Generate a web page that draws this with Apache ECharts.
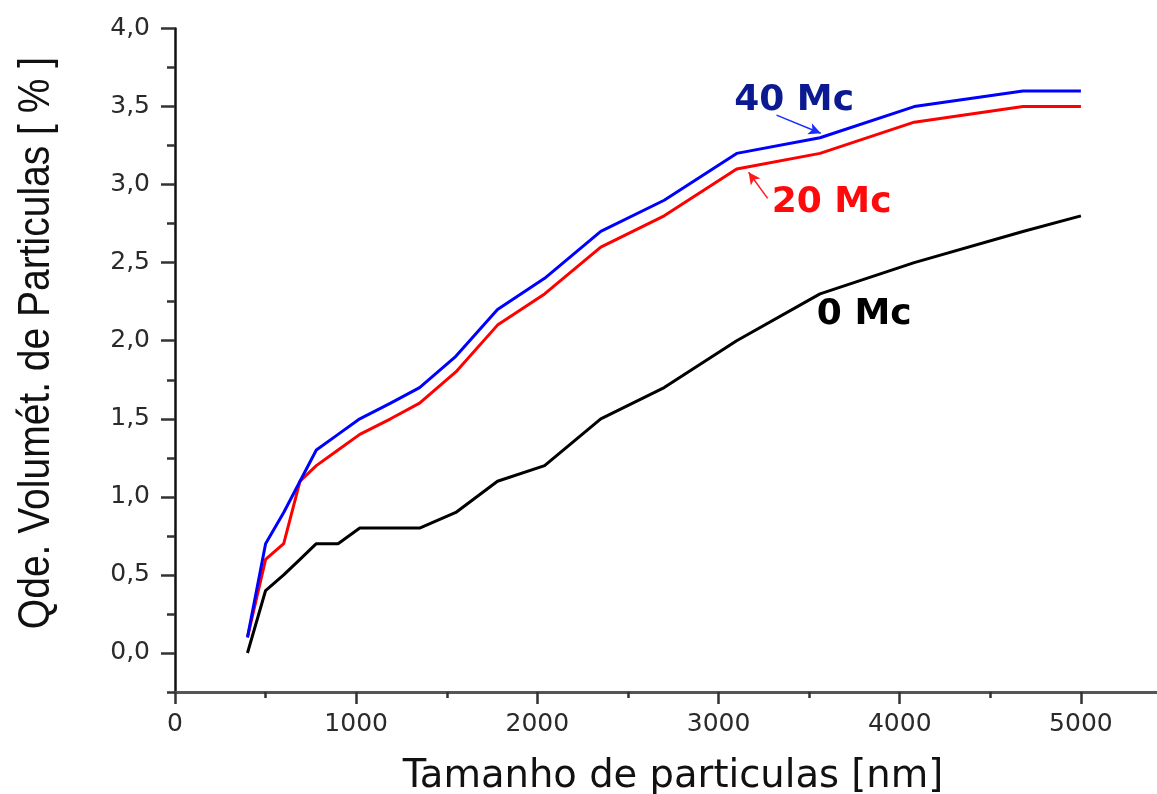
<!DOCTYPE html>
<html>
<head>
<meta charset="utf-8">
<script src="https://cdn.jsdelivr.net/npm/echarts@6/dist/echarts.min.js"></script>
<style>
  html, body { margin: 0; padding: 0; background: #ffffff; }
  #chart { width: 1157px; height: 794px; }
</style>
</head>
<body>
<div id="chart"></div>
<script>
// Particle size [nm] shared by the three curves
const tamanho = [400, 500, 600, 690, 780, 900, 1020, 1190, 1350, 1550, 1780, 2040, 2350, 2700, 3100, 3560, 4080, 4680, 5000];

// Cumulative volume fraction [%]
const mc0  = [0.0, 0.4, 0.5, 0.6, 0.7, 0.7, 0.8, 0.8, 0.8, 0.9, 1.1, 1.2, 1.5, 1.7, 2.0, 2.3, 2.5, 2.7, 2.8];
const mc20 = [0.1, 0.6, 0.7, 1.1, 1.2, 1.3, 1.4, 1.5, 1.6, 1.8, 2.1, 2.3, 2.6, 2.8, 3.1, 3.2, 3.4, 3.5, 3.5];
const mc40 = [0.1, 0.7, 0.9, 1.1, 1.3, 1.4, 1.5, 1.6, 1.7, 1.9, 2.2, 2.4, 2.7, 2.9, 3.2, 3.3, 3.5, 3.6, 3.6];

// X ticks: labelled majors and unlabelled minors
const xTickValues = [0, 1000, 2000, 3000, 4000, 5000];
const xTickLabels = ['0', '1000', '2000', '3000', '4000', '5000'];
const xMinorValues = [500, 1500, 2500, 3500, 4500];

// Y ticks and their comma-decimal labels
const yTickValues = [0, 0.5, 1.0, 1.5, 2.0, 2.5, 3.0, 3.5, 4.0];
const yTickLabels = ['0,0', '0,5', '1,0', '1,5', '2,0', '2,5', '3,0', '3,5', '4,0'];

// Curve labels and their pointer arrows, in data units
const curveLabels = [
  { text: '40 Mc', at: [3417, 3.538], from: [3320, 3.445], to: [3564, 3.329], color: '#0b1a90', arrow: '#1a2cff' },
  { text: '20 Mc', at: [3624, 2.886], from: [3271, 2.912], to: [3166, 3.079], color: '#ff0a0a', arrow: '#ff1a1a' },
  { text: '0 Mc',  at: [3804, 2.164], from: null, to: null, color: '#000000', arrow: null }
];

const pair = (xs, ys) => xs.map((x, i) => [x, ys[i]]);
const lookup = (vals, labels) => v => {
  const i = vals.findIndex(t => Math.abs(t - v) < 1e-6);
  return i >= 0 ? labels[i] : '';
};

function annotation(lbl) {
  const extra = {
    markPoint: {
      silent: true,
      symbol: 'circle',
      symbolSize: 1,
      itemStyle: { color: 'rgba(0,0,0,0)' },
      label: {
        show: true,
        position: 'inside',
        formatter: lbl.text,
        fontFamily: 'DejaVu Sans',
        fontWeight: 'bold',
        fontSize: 36,
        color: lbl.color
      },
      data: [{ coord: lbl.at }]
    }
  };
  if (lbl.from) {
    extra.markLine = {
      silent: true,
      symbol: ['none', 'arrow'],
      symbolSize: [9, 12],
      label: { show: false },
      lineStyle: { color: lbl.arrow, width: 1.5, type: 'solid' },
      emphasis: { disabled: true },
      data: [[{ coord: lbl.from }, { coord: lbl.to }]]
    };
  }
  return extra;
}

function lineSeries(name, ys, color, lbl) {
  return Object.assign({
    name: name,
    type: 'line',
    data: pair(tamanho, ys),
    showSymbol: false,
    symbol: 'none',
    lineStyle: { color: color, width: 3 },
    itemStyle: { color: color },
    emphasis: { disabled: true },
    z: 3
  }, annotation(lbl));
}

const chart = echarts.init(document.getElementById('chart'), null, { renderer: 'canvas' });

const tickFont = { fontFamily: 'DejaVu Sans', color: '#2a2a2a' };
const tickStyle = { color: '#333333', width: 2.5 };
const xRange = { min: 0, max: 5420, interval: 1000 };
const yRange = { min: -0.25, max: 4, interval: 0.25 };

chart.setOption({
  animation: false,
  backgroundColor: '#ffffff',
  grid: { left: 175, top: 28.5, right: 0, height: 663.5 },
  xAxis: [
    Object.assign({
      type: 'value',
      position: 'bottom',
      axisLine: { show: true, onZero: false, lineStyle: { color: '#555555', width: 3 } },
      axisTick: { show: true, length: 12, customValues: xTickValues, lineStyle: tickStyle },
      splitLine: { show: false },
      axisLabel: Object.assign({
        fontSize: 25,
        margin: 20,
        customValues: xTickValues,
        formatter: lookup(xTickValues, xTickLabels)
      }, tickFont)
    }, xRange),
    Object.assign({
      type: 'value',
      position: 'bottom',
      offset: 0,
      axisLine: { show: false, onZero: false },
      axisLabel: { show: false },
      splitLine: { show: false },
      axisTick: { show: true, length: 6, customValues: xMinorValues, lineStyle: tickStyle }
    }, xRange)
  ],
  yAxis: [
    Object.assign({
      type: 'value',
      position: 'left',
      axisLine: { show: true, onZero: false, lineStyle: { color: '#111111', width: 2.5 } },
      axisTick: { show: true, length: 8, lineStyle: tickStyle },
      splitLine: { show: false },
      axisLabel: Object.assign({
        fontSize: 25,
        margin: 25,
        customValues: yTickValues,
        formatter: lookup(yTickValues, yTickLabels)
      }, tickFont)
    }, yRange),
    Object.assign({
      type: 'value',
      position: 'left',
      offset: 0,
      axisLine: { show: false, onZero: false },
      axisLabel: { show: false },
      splitLine: { show: false },
      axisTick: { show: true, length: 14, customValues: yTickValues, lineStyle: tickStyle }
    }, yRange)
  ],
  series: [
    lineSeries('0 Mc', mc0, '#000000', curveLabels[2]),
    lineSeries('20 Mc', mc20, '#ff0000', curveLabels[1]),
    lineSeries('40 Mc', mc40, '#0000ff', curveLabels[0])
  ],
  graphic: [
    {
      type: 'text',
      x: 673,
      y: 777,
      style: {
        text: 'Tamanho de particulas [nm]',
        fontFamily: 'DejaVu Sans',
        fontSize: 38.5,
        fill: '#111111',
        align: 'center',
        verticalAlign: 'middle'
      }
    },
    {
      type: 'text',
      x: 37,
      y: 343,
      rotation: Math.PI / 2,
      scaleY: 1.15,
      style: {
        text: 'Qde. Volumét. de Particulas [ % ]',
        fontFamily: 'Liberation Sans',
        fontSize: 39,
        fill: '#111111',
        align: 'center',
        verticalAlign: 'middle'
      }
    }
  ]
});
</script>
</body>
</html>
